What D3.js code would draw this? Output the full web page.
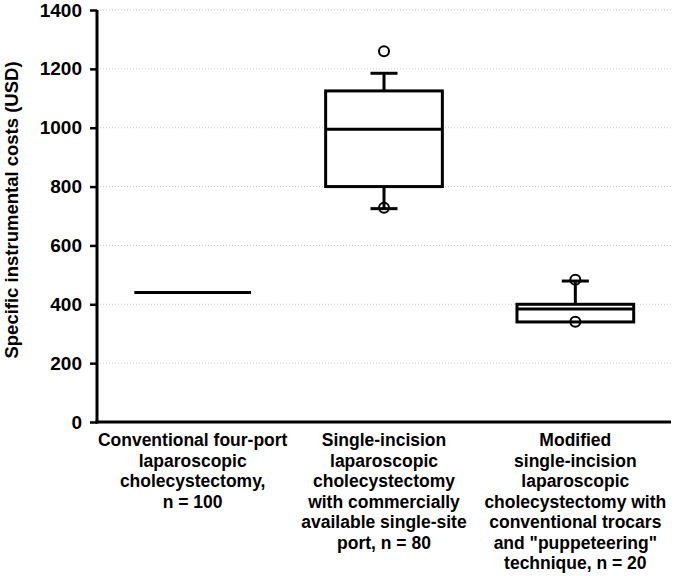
<!DOCTYPE html>
<html>
<head>
<meta charset="utf-8">
<script src="https://cdn.jsdelivr.net/npm/d3@7"></script>
<style>
  body { margin: 0; background: #fff; }
  text { font-family: "Liberation Sans", Arial, sans-serif; font-weight: bold; }
</style>
</head>
<body>
<figure id="boxplot" style="margin:0"></figure>
<script>
// categories (x labels, one array of lines per group)
const categories = [
  ['Conventional four-port', 'laparoscopic', 'cholecystectomy,', 'n = 100'],
  ['Single-incision', 'laparoscopic', 'cholecystectomy', 'with commercially', 'available single-site', 'port, n = 80'],
  ['Modified', 'single-incision', 'laparoscopic', 'cholecystectomy with', 'conventional trocars', 'and "puppeteering"', 'technique, n = 20']
];
const whiskerLow = [440, 725, 340];
const q1 = [440, 800, 340];
const median = [440, 995, 384];
const q3 = [440, 1125, 400];
const whiskerHigh = [440, 1185, 479];
const outliers = [[], [728, 1260], [341, 483]];
const yTicks = [0, 200, 400, 600, 800, 1000, 1200, 1400];

const width = 676, height = 576;
const margin = { top: 10, right: 5, bottom: 154, left: 97 };
const innerW = width - margin.left - margin.right;
const innerH = height - margin.top - margin.bottom;

const svg = d3.select('figure#boxplot')
  .append('svg')
  .attr('width', width)
  .attr('height', height)
  .append('g')
  .attr('transform', 'translate(' + margin.left + ',' + margin.top + ')');

const x = d3.scaleBand()
  .domain(d3.range(categories.length))
  .range([0, innerW])
  .paddingInner(0)
  .paddingOuter(0);

const y = d3.scaleLinear()
  .domain([0, 1400])
  .range([innerH, 0]);

// gridlines
svg.append('g')
  .selectAll('line')
  .data(yTicks.slice(1))
  .enter()
  .append('line')
  .attr('x1', 0)
  .attr('x2', innerW)
  .attr('y1', d => y(d))
  .attr('y2', d => y(d))
  .attr('stroke', '#c8c8c8')
  .attr('stroke-width', 1)
  .attr('stroke-dasharray', '1,2');

// y axis
const yAxis = svg.append('g')
  .call(d3.axisLeft(y).tickValues(yTicks).tickFormat(d3.format('d')).tickSize(7).tickPadding(8));
yAxis.select('.domain').attr('stroke-width', 3).attr('d', 'M0,' + (innerH + 1.5) + 'V0');
yAxis.selectAll('.tick line').attr('stroke-width', 2.5);
yAxis.selectAll('.tick text')
  .style('font-size', '19px')
  .style('font-weight', 'bold')
  .style('font-family', '"Liberation Sans", Arial, sans-serif')
  .attr('fill', '#000');

// x axis line
svg.append('line')
  .attr('x1', -1.5)
  .attr('x2', innerW)
  .attr('y1', innerH)
  .attr('y2', innerH)
  .attr('stroke', '#000')
  .attr('stroke-width', 3);

// y title
svg.append('text')
  .attr('transform', 'translate(' + (12 - margin.left) + ',' + (210 - margin.top) + ') rotate(-90)')
  .attr('text-anchor', 'middle')
  .attr('dy', '0.35em')
  .style('font-size', '18.5px')
  .text('Specific instrumental costs (USD)');

// x labels
const labels = svg.append('g')
  .selectAll('text')
  .data(categories)
  .enter()
  .append('text')
  .attr('text-anchor', 'middle')
  .style('font-size', '17.5px')
  .attr('x', (d, i) => x(i) + x.bandwidth() / 2)
  .attr('y', innerH + 24);
labels.selectAll('tspan')
  .data(d => d)
  .enter()
  .append('tspan')
  .attr('x', function () { return d3.select(this.parentNode).attr('x'); })
  .attr('dy', (d, i) => i === 0 ? 0 : 20.5)
  .text(d => d);

// boxes
const boxW = x.bandwidth() * 0.61;
const capW = 27;
const groups = svg.selectAll('.box')
  .data(d3.range(categories.length))
  .enter()
  .append('g')
  .attr('class', 'box')
  .attr('transform', i => 'translate(' + (x(i) + x.bandwidth() / 2) + ',0)');

groups.each(function (i) {
  const g = d3.select(this);
  const line = (x1, y1, x2, y2) => g.append('line')
    .attr('x1', x1).attr('y1', y1).attr('x2', x2).attr('y2', y2)
    .attr('stroke', '#000').attr('stroke-width', 3);
  if (whiskerHigh[i] > q3[i]) {
    line(0, y(q3[i]), 0, y(whiskerHigh[i]));
    line(-capW / 2, y(whiskerHigh[i]), capW / 2, y(whiskerHigh[i]));
  }
  if (whiskerLow[i] < q1[i]) {
    line(0, y(q1[i]), 0, y(whiskerLow[i]));
    line(-capW / 2, y(whiskerLow[i]), capW / 2, y(whiskerLow[i]));
  }
  if (q3[i] > q1[i]) {
    g.append('rect')
      .attr('x', -boxW / 2)
      .attr('y', y(q3[i]))
      .attr('width', boxW)
      .attr('height', y(q1[i]) - y(q3[i]))
      .attr('fill', '#fff')
      .attr('stroke', '#000')
      .attr('stroke-width', 3);
  }
  line(-boxW / 2, y(median[i]), boxW / 2, y(median[i]));
  g.selectAll('circle')
    .data(outliers[i])
    .enter()
    .append('circle')
    .attr('cx', 0)
    .attr('cy', d => y(d))
    .attr('r', 5)
    .attr('fill', 'none')
    .attr('stroke', '#000')
    .attr('stroke-width', 2);
});
</script>
</body>
</html>
